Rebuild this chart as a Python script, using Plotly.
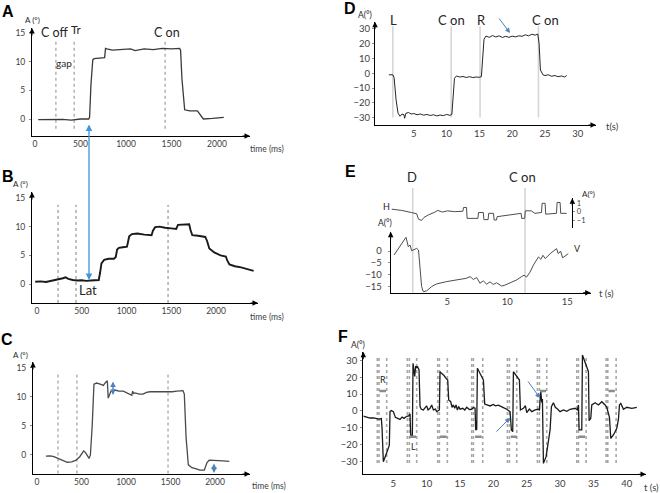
import plotly.graph_objects as go

W, H = 660, 493
FONT = "Lato"
BOLD_FONT = "Liberation Sans"


def PX(x):
    return x / W


def PY(y):
    return 1 - y / H


# ---------------- Panel A ----------------
A_time = [35, 100, 200, 300, 400, 500, 590, 600, 615, 635,
          650, 700, 765, 775, 790, 850, 950, 1050, 1100, 1200,
          1300, 1400, 1500, 1590, 1600, 1615, 1645, 1700, 1785, 1795,
          1830, 1850, 1950, 2050, 2075]
A_angle = [-0.1, -0.1, 0.0, -0.05, -0.2, 0.0, 0.0, 0.3, 6.0, 10.3,
           10.5, 10.6, 10.7, 12.3, 12.2, 12.0, 12.1, 12.2, 11.9, 12.2,
           12.1, 12.3, 12.2, 12.3, 12.0, 7.0, 1.6, 1.4, 1.4, 1.2,
           0.3, 0.0, 0.1, 0.2, 0.3]
A_events = [230, 430, 1430]

# ---------------- Panel B ----------------
B_time = [-20, 40, 100, 150, 200, 250, 290, 320, 350, 400,
          450, 500, 550, 600, 650, 690, 705, 720, 750, 800,
          860, 880, 895, 915, 960, 1005, 1015, 1030, 1060, 1120,
          1200, 1280, 1295, 1320, 1370, 1430, 1500, 1555, 1575, 1630,
          1700, 1715, 1735, 1800, 1880, 1900, 1925, 1980, 2050, 2110,
          2125, 2150, 2210, 2280, 2350, 2420]
B_angle = [0.4, 0.45, 0.35, 0.5, 0.7, 0.8, 1.0, 1.15, 0.9, 0.7,
           0.6, 0.65, 0.55, 0.6, 0.6, 0.7, 2.0, 3.6, 4.2, 4.4,
           4.4, 4.7, 6.0, 6.3, 6.4, 6.5, 7.2, 8.3, 8.7, 8.8,
           8.6, 8.5, 9.3, 9.9, 10.0, 9.8, 9.7, 9.6, 10.3, 10.4,
           10.4, 9.4, 8.5, 8.4, 8.2, 7.5, 6.2, 5.5, 5.0, 4.8,
           4.1, 3.4, 3.1, 2.9, 2.6, 2.3]
B_events = [235, 436, 1464]

# ---------------- Panel C ----------------
C_time = [100, 150, 190, 240, 290, 340, 390, 440, 480, 505,
          525, 545, 565, 585, 600, 620, 640, 670, 710, 745,
          770, 790, 800, 810, 830, 875, 920, 970, 1020, 1065,
          1075, 1085, 1100, 1150, 1190, 1230, 1270, 1350, 1460, 1520,
          1570, 1640, 1655, 1675, 1700, 1740, 1790, 1830, 1880, 1895,
          1910, 1935, 1980, 2020, 2090, 2160]
C_angle = [-0.2, -0.15, -0.3, -0.6, -0.95, -1.25, -1.2, -0.9, -0.3, 0.3,
           0.7, 0.4, -0.2, -0.6, 0.0, 5.0, 12.2, 12.4, 12.2, 12.0,
           12.5, 12.8, 9.8, 10.3, 11.0, 11.2, 11.0, 11.0, 10.6, 10.3,
           11.0, 10.6, 10.7, 10.5, 10.5, 10.8, 10.9, 10.9, 10.8, 10.9,
           11.0, 11.1, 10.5, 3.0, -1.7, -2.2, -2.4, -2.6, -2.6, -2.0,
           -1.3, -0.9, -0.9, -0.9, -1.0, -1.1]
C_events = [236, 449, 1472]

# ---------------- Panel D ----------------
D_time = [1.2, 1.8, 2.0, 2.3, 2.6, 2.9, 3.2, 3.5, 3.6, 3.8,
          4.2, 4.6, 5.0, 5.5, 6.0, 6.5, 7.0, 7.5, 8.0, 8.5,
          9.0, 9.5, 10.0, 10.5, 10.8, 11.0, 11.2, 11.5, 12.0, 12.5,
          13.0, 13.5, 14.0, 14.5, 15.0, 15.3, 15.5, 15.7, 16.0, 16.5,
          17.0, 17.5, 18.0, 18.5, 19.0, 19.5, 20.0, 20.5, 21.0, 21.5,
          22.0, 22.5, 23.0, 23.5, 23.9, 24.1, 24.3, 24.7, 25.0, 25.5,
          26.0, 26.5, 27.0, 27.5, 28.0, 28.3]
D_angle = [-1, -1, -3, -18, -27, -29, -27.5, -28, -30.4, -27,
           -26.5, -27.5, -27.2, -28, -27.5, -28.3, -27.8, -28.5, -28, -28.8,
           -28.2, -28.6, -27.8, -28.4, -27.8, -15, -3.4, -1.8, -2.5, -2.2,
           -2.8, -2.3, -2.9, -2.5, -2.7, -2.3, 10, 23, 25.2, 24.3,
           25.5, 24.5, 25.3, 24.2, 25.0, 24.3, 25.1, 24.6, 25.3, 25.0,
           26.0, 25.3, 26.4, 25.8, 26.5, 20, 2.2, -1.1, -1.5, -1.0,
           -2.0, -1.5, -2.3, -1.8, -2.5, -1.4]
D_events = [1.8, 10.7, 15.1, 24.0]
D_event_labels = ["L", "C on", "R", "C on"]

# ---------------- Panel E ----------------
H_time = [0.37, 1.2, 2.0, 2.45, 2.6, 2.85, 3.05, 3.4, 3.9, 4.2,
          4.6, 5.0, 5.6, 6.3, 6.35, 6.6, 6.65, 7.55, 7.6, 8.0,
          8.05, 8.4, 8.45, 8.85, 8.9, 9.1, 9.15, 10.0, 11.15, 11.2,
          11.45, 11.5, 12.0, 12.3, 12.85, 12.9, 13.15, 13.2, 14.1, 14.15,
          14.4, 14.45, 14.95]
H_angle = [0.3, 0.15, -0.1, -0.25, -0.9, -1.05, -0.7, -0.4, -0.1, 0.15,
           -0.05, 0.1, 0.0, 0.05, 0.5, 0.5, -0.8, -0.8, -0.1, -0.1,
           -0.95, -0.95, -0.2, -0.2, -1.0, -1.0, -0.6, -0.4, -0.2, -0.8,
           -0.8, 0.1, 0.1, -0.2, -0.1, 1.0, 1.0, -0.3, -0.2, 1.1,
           1.1, -0.2, -0.2]
V_time = [0.56, 1.56, 1.75, 1.9, 2.03, 2.45, 2.6, 2.73, 2.86, 3.0,
          3.28, 3.7, 4.1, 4.95, 5.78, 6.6, 6.9, 7.17, 7.45, 7.72,
          8.0, 8.28, 8.56, 8.83, 9.11, 9.53, 9.8, 10.22, 10.78, 11.19,
          11.4, 11.6, 11.9, 12.17, 12.6, 12.8, 12.97, 13.16, 13.58, 14.1,
          14.25, 14.44, 14.61, 15.08]
V_angle = [-1.7, 5.8, 1.8, 2.5, 0.1, 1.1, 0.4, -8, -15, -17.2,
           -16.8, -15, -13.9, -12.9, -12.2, -11.5, -10.8, -12, -11.2, -13.6,
           -12.6, -14, -13, -14.1, -13.4, -14.8, -14.4, -13.4, -12.2, -10.8,
           -10.2, -11, -8.9, -6, -2.5, -3.5, -1.8, -3.2, -1.1, 1.0,
           -1.1, 0, -2.9, -1.1]
E_events = [2.12, 11.48]
E_event_labels = ["D", "C on"]

# ---------------- Panel F ----------------
F_time = [0.5, 1.0, 1.5, 2.0, 2.5, 2.9, 3.2, 3.3, 3.5, 3.7,
          4.0, 4.4, 4.5, 4.7, 5.0, 5.3, 5.6, 6.0, 6.3, 6.6,
          7.0, 7.3, 7.5, 7.6, 7.85, 7.95, 8.2, 8.35, 8.5, 8.6,
          8.85, 9.0, 9.2, 9.5, 9.8, 10.0, 10.2, 10.5, 10.75, 11.0,
          11.3, 11.5, 11.9, 12.0, 12.3, 12.6, 12.9, 13.15, 13.3, 13.6,
          13.8, 14.0, 14.2, 14.4, 14.6, 14.8, 15.0, 15.4, 15.7, 16.0,
          16.4, 16.75, 17.0, 17.25, 17.35, 17.5, 17.6, 18.0, 18.5, 18.7,
          19.0, 19.5, 20.0, 20.3, 20.75, 21.2, 21.5, 22.0, 22.3, 22.5,
          22.7, 22.9, 23.0, 23.5, 23.9, 24.05, 24.5, 24.8, 25.0, 25.4,
          25.75, 26.25, 26.75, 26.9, 27.0, 27.1, 27.25, 27.35, 27.5, 27.9,
          28.5, 28.7, 29.0, 29.3, 29.5, 30.0, 30.5, 31.0, 31.5, 32.0,
          32.25, 32.6, 32.75, 32.85, 33.25, 33.35, 33.75, 34.25, 34.35, 34.6,
          34.75, 35.25, 35.75, 36.25, 36.75, 37.0, 37.4, 37.6, 38.0, 38.5,
          38.75, 38.9, 39.1, 39.5, 40.0, 40.75, 41.5]
F_angle = [-3.1, -3.5, -4.3, -4.2, -4.8, -5.0, -4.6, -10, -30.3, -28.5,
           -25, -20.5, -0.5, 0.2, -0.5, -3.9, -4.5, -5.1, -3.8, -4.5,
           -3.3, -3.0, -1.9, -14.4, -14.8, 28.3, 20.5, 26.7, 25.5, 26.5,
           24.3, 2.5, 0.9, 0.5, 2.0, 2.9, 0.5, 1.5, 3.5, 0.5,
           1.0, -0.5, 0.5, 23.3, 22, 21, 19.3, 18.3, 6.4, 5.4,
           2.0, 3.5, 1.5, 3.5, 0.5, 2.5, 1.0, 1.5, 0.5, 2.1,
           0.8, 0.9, 2.0, 1.5, -11.4, -11.0, 25.3, 22.3, 18.3, 4.0,
           3.5, 2.9, 3.8, 3.0, 3.4, 2.3, 1.9, 0.9, 0.3, -0.5,
           -11.4, -12.4, 23.3, 20.3, 18.3, 0.5, 1.5, 3.0, -1.1, 1.0,
           -0.5, 0.5, 0.9, 0.5, 8.4, 11.8, 5, 7, -31.3, -27.3,
           -11.4, 2.5, 4.8, 2.0, 1.5, -0.5, 0.5, -0.3, 0.9, 1.2,
           1.5, 0.5, 3.5, -11.4, -11.4, 33.2, 28.3, 23.3, -5.9, -4.5,
           3.5, 4.8, 3.5, 5.4, 3.5, 2.1, -3.9, -16.4, -14.4, -10.4,
           -5, 3.5, 4.4, 0.9, 2.1, 1.5, 2.1]
F_events = [2.6, 2.85, 4.0, 7.1, 7.4, 8.5, 11.65, 11.9, 13.1,
            16.75, 17.0, 18.4, 22.1, 22.4, 23.5, 26.6, 26.9, 28.0,
            32.5, 32.75, 33.9, 36.9, 37.15, 38.4]
R_bar_start = [2.9, 27.0, 37.25]
R_bar_end = [3.9, 27.9, 38.2]
R_level = 11.8
L_bar_start = [7.4, 12.0, 17.25, 22.6, 32.75]
L_bar_end = [8.4, 13.0, 18.25, 23.5, 33.75]
L_level = -15.4

TIME_TICKS = [0, 500, 1000, 1500, 2000]
ANGLE_TICKS_ABC = [0, 5, 10, 15]
D_XTICKS = [5, 10, 15, 20, 25, 30]
D_YTICKS = [-30, -20, -10, 0, 10, 20, 30]
E_XTICKS = [5, 10, 15]
E_YTICKS = [-15, -10, -5, 0]
H_YTICKS = [-1, 0, 1]
F_XTICKS = [5, 10, 15, 20, 25, 30, 35, 40]
F_YTICKS = [-30, -20, -10, 0, 10, 20, 30]

fig = go.Figure()


def line_trace(x, y, xa, ya, color, width):
    fig.add_trace(go.Scatter(x=x, y=y, xaxis=xa, yaxis=ya, mode="lines",
                             line=dict(color=color, width=width),
                             hoverinfo="skip", showlegend=False))


line_trace(A_time, A_angle, "x", "y", "#3a3a3a", 1.3)
line_trace(B_time, B_angle, "x2", "y2", "#1a1a1a", 1.9)
line_trace(C_time, C_angle, "x3", "y3", "#4a4a4a", 1.3)
line_trace(D_time, D_angle, "x4", "y4", "#262626", 1.0)
line_trace(V_time, V_angle, "x5", "y5", "#4d4d4d", 1.0)
line_trace(H_time, H_angle, "x5", "y6", "#4d4d4d", 1.0)
line_trace(F_time, F_angle, "x6", "y7", "#1a1a1a", 1.3)

# R / L target bars in F
bx, by = [], []
for s, e in zip(R_bar_start, R_bar_end):
    bx += [s, e, None]
    by += [R_level, R_level, None]
for s, e in zip(L_bar_start, L_bar_end):
    bx += [s, e, None]
    by += [L_level, L_level, None]
fig.add_trace(go.Scatter(x=bx, y=by, xaxis="x6", yaxis="y7", mode="lines",
                         line=dict(color="#8c8c8c", width=2.5),
                         hoverinfo="skip", showlegend=False))

shapes = []
for t in A_events:
    shapes.append(dict(type="line", xref="x", yref="y", x0=t, x1=t, y0=-1.7, y1=13.8,
                       line=dict(color="#8c8c8c", width=1, dash="dot"), layer="below"))
for t in B_events:
    shapes.append(dict(type="line", xref="x2", yref="y2", x0=t, x1=t, y0=-3.3, y1=13.8,
                       line=dict(color="#7f7f7f", width=1, dash="dot"), layer="below"))
for t in C_events:
    shapes.append(dict(type="line", xref="x3", yref="y3", x0=t, x1=t, y0=-3.2, y1=14.4,
                       line=dict(color="#8c8c8c", width=1, dash="dot"), layer="below"))
for t in D_events:
    shapes.append(dict(type="line", xref="x4", yref="y4", x0=t, x1=t, y0=-29.8, y1=31.8,
                       line=dict(color="#d6d6d6", width=1.6), layer="below"))
for t in E_events:
    shapes.append(dict(type="line", xref="x5", yref="paper", x0=t, x1=t,
                       y0=PY(292.7), y1=PY(188),
                       line=dict(color="#d6d6d6", width=1.6), layer="below"))
for t in F_events:
    shapes.append(dict(type="line", xref="x6", yref="y7", x0=t, x1=t, y0=-31, y1=33,
                       line=dict(color="#a6a6a6", width=1.6, dash="dot"), layer="below"))

TICKFONT = dict(family=FONT, size=8.5, color="#404040")
TICKFONT_R = dict(family=FONT, size=9.5, color="#404040")
TICKFONT_H = dict(family=FONT, size=7.5, color="#404040")


def xax(d0, d1, rng, anchor, tickvals, font=TICKFONT):
    return dict(domain=[PX(d0), PX(d1)], range=rng, anchor=anchor,
                showgrid=False, zeroline=False, showline=True,
                linecolor="#000000", linewidth=1, ticks="",
                tickvals=tickvals, tickfont=font, fixedrange=True)


def yax(top, bottom, rng, anchor, tickvals, font=TICKFONT, standoff=0):
    return dict(domain=[PY(bottom), PY(top)], range=rng, anchor=anchor,
                showgrid=False, zeroline=False, showline=True,
                linecolor="#000000", linewidth=1, ticks="outside",
                ticklen=2, tickcolor="#8c8c8c", ticklabelstandoff=standoff,
                tickvals=tickvals, tickfont=font, fixedrange=True)


layout = dict(
    width=W, height=H, margin=dict(l=0, r=0, t=0, b=0),
    paper_bgcolor="white", plot_bgcolor="white", showlegend=False,
    xaxis=xax(32, 250, [-33, 2363], "y", TIME_TICKS),
    yaxis=yax(28, 136, [-2.96, 15.85], "x", ANGLE_TICKS_ABC, standoff=2),
    xaxis2=xax(32, 258, [-55.9, 2469], "y2", TIME_TICKS),
    yaxis2=yax(192, 303, [-3.31, 16.03], "x2", ANGLE_TICKS_ABC, standoff=2),
    xaxis3=xax(33, 250, [-44.9, 2393], "y3", TIME_TICKS),
    yaxis3=yax(362, 474, [-3.28, 16.03], "x3", ANGLE_TICKS_ABC, standoff=2),
    xaxis4=xax(375, 596, [-0.915, 32.77], "y4", D_XTICKS, TICKFONT_R),
    yaxis4=yax(21.7, 125, [-34.93, 34.86], "x4", D_YTICKS, TICKFONT_R),
    xaxis5=xax(390.7, 590.7, [0.283, 16.95], "y5", E_XTICKS, TICKFONT_R),
    yaxis5=yax(231.7, 292.7, [-17.59, 8.14], "x5", E_YTICKS, TICKFONT_R, standoff=4),
    xaxis6=xax(363.3, 646, [0.495, 42.88], "y7", F_XTICKS, TICKFONT_R),
    yaxis7=yax(351.7, 474.3, [-37.8, 35.18], "x6", F_YTICKS, TICKFONT_R, standoff=1),
)
y6 = yax(198.3, 228.3, [-1.99, 1.60], "free", H_YTICKS, TICKFONT_H)
y6.update(position=PX(572.3), side="right")
layout["yaxis6"] = y6
layout["shapes"] = shapes

ann = []


def text(x, y, s, size=12.5, color="#262626", family=FONT, xanchor="center"):
    ann.append(dict(x=PX(x), y=PY(y), xref="paper", yref="paper", text=s,
                    showarrow=False, xanchor=xanchor, yanchor="middle",
                    font=dict(family=family, size=size, color=color)))


def arrow(x, y, ax, ay, color="#000000", width=1, size=1.1, both=False):
    d = dict(x=PX(x), y=PY(y), xref="paper", yref="paper", ax=ax, ay=ay,
             axref="pixel", ayref="pixel", text="", showarrow=True,
             arrowhead=2, arrowsize=size, arrowwidth=width, arrowcolor=color)
    if both:
        d.update(arrowside="end+start", startarrowhead=2, startarrowsize=size)
    ann.append(d)


# panel letters
for lbl, x, y in [("A", 8, 12), ("B", 8, 176), ("C", 7, 339),
                  ("D", 350, 9), ("E", 350, 171), ("F", 343, 336)]:
    text(x, y, "<b>%s</b>" % lbl, size=16, color="#000000", family=BOLD_FONT)

# axis titles
text(32, 20, "A (°)", size=8)
text(20, 184, "A (°)", size=8)
text(20, 355, "A (°)", size=8)
text(248, 149, "time (ms)", size=8.5, color="#404040", xanchor="left")
text(248, 317, "time (ms)", size=8.5, color="#404040", xanchor="left")
text(250, 486, "time (ms)", size=8.5, color="#404040", xanchor="left")
text(365, 15, "A(°)", size=8.5)
text(612, 126, "t(s)", size=9.5, color="#404040")
text(385, 223, "A(°)", size=8.5)
text(588, 194, "A(°)", size=8)
text(606, 293, "t (s)", size=9.5, color="#404040")
text(358, 345, "A(°)", size=8.5)
text(651, 487, "t (s)", size=9.5, color="#404040")

# event labels
text(55, 33, "C off", size=12.5)
text(76, 29, "Tr", size=11.5)
text(64, 63, "gap", size=10)
text(167, 33, "C on", size=12.5)
text(88, 290, "Lat", size=13)
for lbl, x in zip(D_event_labels, [393, 451, 481, 545]):
    text(x, 20, lbl, size=13)
for lbl, x in zip(E_event_labels, [412, 522]):
    text(x, 177, lbl, size=13)
text(386, 207, "H", size=9)
text(577, 248, "V", size=9)
text(383, 379, "R", size=9)
text(413, 446, "L", size=9)

# axis arrowheads
for (x, y, ax, ay) in [(32, 28, 0, 9), (250, 136, -9, 0),
                       (32, 192, 0, 9), (258, 303, -9, 0),
                       (33, 362, 0, 9), (250, 474, -9, 0),
                       (375, 21.7, 0, 9), (596, 125, -9, 0),
                       (390.7, 231.7, 0, 9), (590.7, 292.7, -9, 0),
                       (572.3, 198.3, 0, 9),
                       (363.3, 351.7, 0, 9), (646, 474.3, -9, 0)]:
    arrow(x, y, ax, ay)

# blue arrows
arrow(89, 280, 0, -157, color="#3e95d8", width=1.3, size=1.0, both=True)
arrow(113, 395, 0, -15, color="#4f81bd", width=1.4, size=0.8, both=True)
arrow(214, 473, 0, -11, color="#4f81bd", width=1.4, size=0.8, both=True)
arrow(510, 33, -12, -16, color="#4f81bd", width=1.0, size=1.0)
arrow(510, 418, -15, 15, color="#4f81bd", width=1.0, size=1.0)
arrow(540, 398, -13, -18, color="#4f81bd", width=1.0, size=1.0)

layout["annotations"] = ann
fig.update_layout(**layout)
fig.write_html("out.html", config={"displayModeBar": False},
               post_script="document.body.style.margin='0';document.body.style.overflow='hidden';")
